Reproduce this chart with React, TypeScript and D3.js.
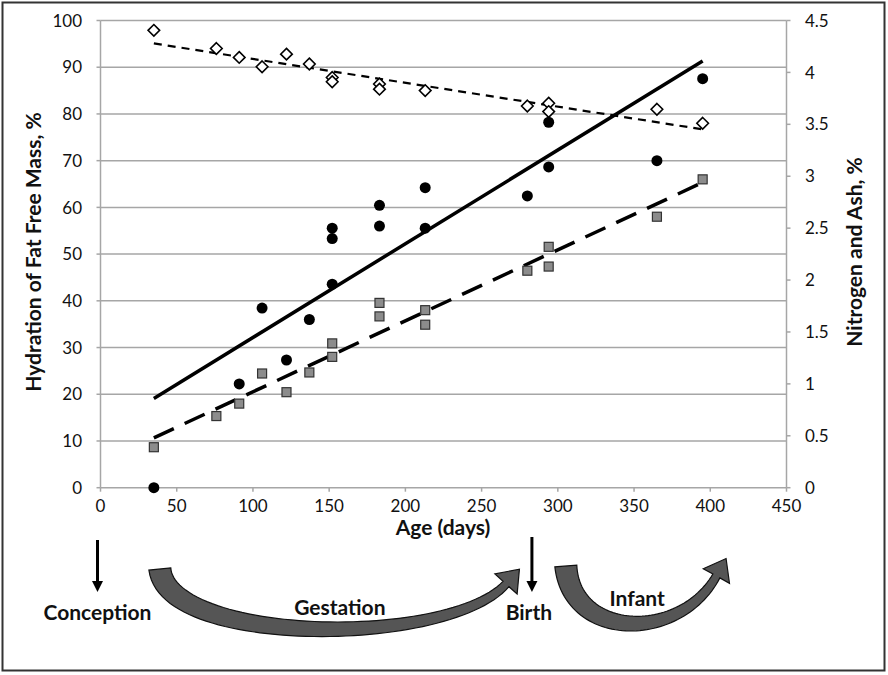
import React, { useEffect } from "react";
import * as d3 from "d3";

// ---- Data ----
const hydrationDays = [35, 76, 91, 106, 122, 137, 152, 152, 183, 183, 213, 280, 294, 294, 365, 395];
const hydration = [97.9, 94.0, 92.1, 90.1, 92.8, 90.7, 87.8, 86.9, 86.4, 85.3, 85.0, 81.7, 82.3, 80.5, 81.0, 78.0];

const ashDays = [35, 91, 106, 122, 137, 152, 152, 152, 183, 183, 213, 213, 280, 294, 294, 365, 395];
const ash = [0, 1.0, 1.73, 1.23, 1.62, 1.96, 2.4, 2.5, 2.52, 2.72, 2.5, 2.89, 2.81, 3.09, 3.52, 3.15, 3.94];

const nitrogenDays = [35, 76, 91, 106, 122, 137, 152, 152, 183, 183, 213, 213, 280, 294, 294, 365, 395];
const nitrogen = [0.39, 0.69, 0.81, 1.1, 0.92, 1.11, 1.39, 1.26, 1.78, 1.65, 1.71, 1.57, 2.09, 2.32, 2.13, 2.61, 2.97];

const trendDays = [35, 395];
const hydrationTrend = [95.1, 76.7];
const ashTrend = [0.86, 4.11];
const nitrogenTrend = [0.48, 2.94];

const xTicks = [0, 50, 100, 150, 200, 250, 300, 350, 400, 450];
const leftTicks = [0, 10, 20, 30, 40, 50, 60, 70, 80, 90, 100];
const rightTicks = [0, 0.5, 1, 1.5, 2, 2.5, 3, 3.5, 4, 4.5];

const xTitle = "Age (days)";
const leftTitle = "Hydration of Fat Free Mass, %";
const rightTitle = "Nitrogen and Ash, %";

const stageLabels = ["Conception", "Gestation", "Birth", "Infant"];
const eventDays = [0, 283];

// ---- Layout ----
const W = 888;
const H = 675;
const x = d3.scaleLinear().domain([0, 450]).range([100.5, 786.5]);
const yL = d3.scaleLinear().domain([0, 100]).range([487.7, 20.5]);
const yR = d3.scaleLinear().domain([0, 4.5]).range([487.7, 20.5]);
const FONT = "Lato, 'Open Sans', sans-serif";

function curvedArrowPath(
  P: number[][],
  w0: number,
  w1: number,
  headW: number,
  headL: number
) {
  const bez = (t: number) => {
    const mt = 1 - t;
    const a = mt * mt * mt, b = 3 * mt * mt * t, c = 3 * mt * t * t, d = t * t * t;
    return [
      a * P[0][0] + b * P[1][0] + c * P[2][0] + d * P[3][0],
      a * P[0][1] + b * P[1][1] + c * P[2][1] + d * P[3][1],
    ];
  };
  const der = (t: number) => {
    const mt = 1 - t;
    const dx = 3 * mt * mt * (P[1][0] - P[0][0]) + 6 * mt * t * (P[2][0] - P[1][0]) + 3 * t * t * (P[3][0] - P[2][0]);
    const dy = 3 * mt * mt * (P[1][1] - P[0][1]) + 6 * mt * t * (P[2][1] - P[1][1]) + 3 * t * t * (P[3][1] - P[2][1]);
    const l = Math.hypot(dx, dy) || 1;
    return [dx / l, dy / l];
  };
  const left: number[][] = [];
  const right: number[][] = [];
  const N = 60;
  for (let i = 0; i <= N; i++) {
    const t = i / N;
    const p = bez(t);
    const d = der(t);
    const n = [-d[1], d[0]];
    const w = (w0 + (w1 - w0) * t) / 2;
    left.push([p[0] + n[0] * w, p[1] + n[1] * w]);
    right.push([p[0] - n[0] * w, p[1] - n[1] * w]);
  }
  const E = bez(1);
  const d = der(1);
  const n = [-d[1], d[0]];
  const hl = [E[0] + n[0] * headW / 2, E[1] + n[1] * headW / 2];
  const hr = [E[0] - n[0] * headW / 2, E[1] - n[1] * headW / 2];
  const tip = [E[0] + d[0] * headL, E[1] + d[1] * headL];
  const pts = [...left, hl, tip, hr, ...right.reverse()];
  return d3.line()(pts as [number, number][]) + "Z";
}

function diamond(cx: number, cy: number, r: number) {
  return `M${cx},${cy - r}L${cx + r},${cy}L${cx},${cy + r}L${cx - r},${cy}Z`;
}

export default function App() {
  useEffect(() => {
    document.body.style.margin = "0";
  }, []);

  const gridColor = "#a6a6a6";
  const trendLine = (days: number[], vals: number[], ys: d3.ScaleLinear<number, number>) =>
    d3.line<number>().x((d, i) => x(days[i])).y((d) => ys(d))(vals) || "";

  const gestation = curvedArrowPath(
    [
      [x(35) + 6, 569],
      [x(35) + 14, 645],
      [x(228), 648],
      [x(266), 584],
    ],
    22, 8, 30, 20
  );
  const infant = curvedArrowPath(
    [
      [x(300) + 8, 566],
      [x(300) + 14, 640],
      [x(380), 642],
      [x(404), 576],
    ],
    22, 8, 30, 20
  );

  const straightArrow = (cx: number, y0: number, y1: number) => (
    <g>
      <line x1={cx} x2={cx} y1={y0} y2={y1 - 9} stroke="#000" strokeWidth={3} />
      <path d={`M${cx - 5.5},${y1 - 11}L${cx + 5.5},${y1 - 11}L${cx},${y1}Z`} fill="#000" />
    </g>
  );

  return (
    <svg width={W} height={H} style={{ display: "block", background: "#fff" }}>
      <rect x={2.5} y={2.5} width={882} height={668} fill="#fff" stroke="#333" strokeWidth={2} />

      {/* gridlines */}
      {leftTicks.map((t) => (
        <line key={"g" + t} x1={x(0)} x2={x(450)} y1={yL(t)} y2={yL(t)} stroke={gridColor} strokeWidth={1.5} />
      ))}
      {/* axes lines */}
      <line x1={x(0)} x2={x(0)} y1={yL(100)} y2={yL(0)} stroke={gridColor} strokeWidth={1.5} />
      <line x1={x(450)} x2={x(450)} y1={yL(100)} y2={yL(0)} stroke={gridColor} strokeWidth={1.5} />
      {leftTicks.map((t) => (
        <line key={"lt" + t} x1={x(0) - 4} x2={x(0)} y1={yL(t)} y2={yL(t)} stroke={gridColor} strokeWidth={1.5} />
      ))}
      {rightTicks.map((t) => (
        <line key={"rt" + t} x1={x(450)} x2={x(450) + 4} y1={yR(t)} y2={yR(t)} stroke={gridColor} strokeWidth={1.5} />
      ))}
      {xTicks.map((t) => (
        <line key={"xt" + t} x1={x(t)} x2={x(t)} y1={yL(0)} y2={yL(0) + 4} stroke={gridColor} strokeWidth={1.5} />
      ))}

      {/* tick labels */}
      {leftTicks.map((t) => (
        <text key={"ll" + t} x={82} y={yL(t)} dy="0.36em" textAnchor="end" fontFamily={FONT} fontSize={17} fill="#111">
          {t}
        </text>
      ))}
      {rightTicks.map((t) => (
        <text key={"rl" + t} x={805} y={yR(t)} dy="0.36em" textAnchor="start" fontFamily={FONT} fontSize={17} fill="#111">
          {t}
        </text>
      ))}
      {xTicks.map((t) => (
        <text key={"xl" + t} x={x(t)} y={506} dy="0.36em" textAnchor="middle" fontFamily={FONT} fontSize={17} fill="#111">
          {t}
        </text>
      ))}

      {/* axis titles */}
      <text transform={`translate(33,252) rotate(-90)`} textAnchor="middle" dy="0.36em" fontFamily={FONT} fontWeight="bold" fontSize={21} fill="#111">
        {leftTitle}
      </text>
      <text transform={`translate(854,252) rotate(-90)`} textAnchor="middle" dy="0.36em" fontFamily={FONT} fontWeight="bold" fontSize={21} fill="#111">
        {rightTitle}
      </text>
      <text x={443} y={527} dy="0.36em" textAnchor="middle" fontFamily={FONT} fontWeight="bold" fontSize={21} fill="#111">
        {xTitle}
      </text>

      {/* trend lines */}
      <path d={trendLine(trendDays, hydrationTrend, yL)} fill="none" stroke="#000" strokeWidth={2.2} strokeDasharray="8,6" />
      <path d={trendLine(trendDays, ashTrend, yR)} fill="none" stroke="#000" strokeWidth={3.5} />
      <path d={trendLine(trendDays, nitrogenTrend, yR)} fill="none" stroke="#000" strokeWidth={3.5} strokeDasharray="22,12" />

      {/* markers */}
      {hydration.map((v, i) => (
        <path key={"h" + i} d={diamond(x(hydrationDays[i]), yL(v), 5.8)} fill="#fff" stroke="#000" strokeWidth={1.6} />
      ))}
      {nitrogen.map((v, i) => (
        <rect key={"n" + i} x={x(nitrogenDays[i]) - 4.5} y={yR(v) - 4.5} width={9} height={9} fill="#8c8c8c" stroke="#333" strokeWidth={1.2} />
      ))}
      {ash.map((v, i) => (
        <circle key={"a" + i} cx={x(ashDays[i])} cy={yR(v)} r={5.5} fill="#000" />
      ))}

      {/* stage annotations */}
      {straightArrow(x(eventDays[0]) - 3, 540, 592)}
      {straightArrow(x(eventDays[1]), 537, 592)}
      <path d={gestation} fill="#555" stroke="#111" strokeWidth={1.2} />
      <path d={infant} fill="#555" stroke="#111" strokeWidth={1.2} />
      <text x={x(eventDays[0]) - 3} y={612} dy="0.36em" textAnchor="middle" fontFamily={FONT} fontWeight="bold" fontSize={21} fill="#111">
        {stageLabels[0]}
      </text>
      <text x={x(157)} y={607} dy="0.36em" textAnchor="middle" fontFamily={FONT} fontWeight="bold" fontSize={21} fill="#111">
        {stageLabels[1]}
      </text>
      <text x={x(281)} y={612} dy="0.36em" textAnchor="middle" fontFamily={FONT} fontWeight="bold" fontSize={21} fill="#111">
        {stageLabels[2]}
      </text>
      <text x={x(352)} y={598} dy="0.36em" textAnchor="middle" fontFamily={FONT} fontWeight="bold" fontSize={21} fill="#111">
        {stageLabels[3]}
      </text>
    </svg>
  );
}
